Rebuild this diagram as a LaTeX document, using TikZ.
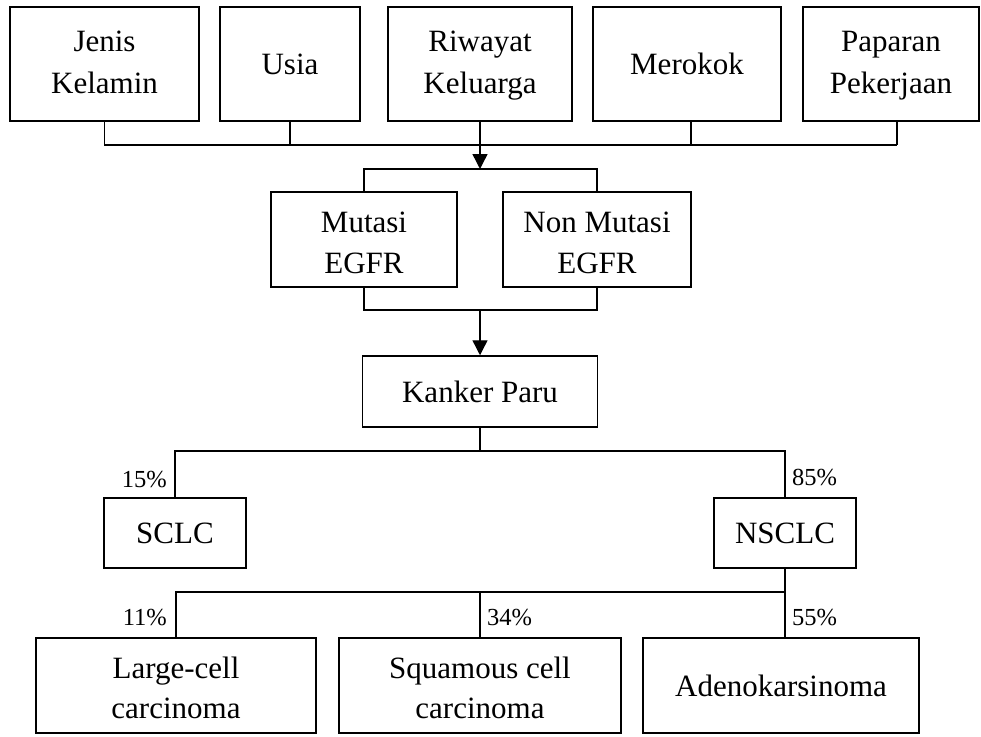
\documentclass[tikz,border=0pt]{standalone}
\usepackage{fontspec}
\setmainfont{Liberation Serif}
\usetikzlibrary{arrows.meta}
\newcommand{\tallstrut}{\rule{0pt}{39.4pt}}
\begin{document}
\begin{tikzpicture}[x=1pt,y=-1pt,
  box/.style={draw, line width=1.5pt, inner sep=0pt, align=center,
    font=\fontsize{31}{42}\selectfont},
  conn/.style={line width=1.4pt},
  arr/.style={line width=1.4pt, -{Triangle[width=15pt,length=15pt]}},
  pct/.style={font=\fontsize{24.5}{28}\selectfont, inner sep=0pt}]
\useasboundingbox (0,0) rectangle (981,736);
% top row
\node[box, minimum width=189pt, minimum height=114pt] (jenis) at (104.5,64) {\strut Jenis\\\strut Kelamin};
\node[box, minimum width=140pt, minimum height=114pt] (usia) at (290,64) {Usia};
\node[box, minimum width=184pt, minimum height=114pt] (riwayat) at (480,64) {\strut Riwayat\\\strut Keluarga};
\node[box, minimum width=188pt, minimum height=114pt] (merokok) at (687,64) {Merokok};
\node[box, minimum width=176pt, minimum height=114pt] (paparan) at (891,64) {\strut Paparan\\\strut Pekerjaan};
% EGFR
\node[box, minimum width=186pt, minimum height=95pt] (mutasi) at (364,239.5) {\tallstrut Mutasi\\[-1pt]\strut EGFR};
\node[box, minimum width=188pt, minimum height=95pt] (nonmut) at (597,239.5) {\tallstrut Non Mutasi\\[-1pt]\strut EGFR};
\node[box, minimum width=235pt, minimum height=71pt] (kanker) at (480,391.5) {Kanker Paru};
\node[box, minimum width=142pt, minimum height=70pt] (sclc) at (175,533) {SCLC};
\node[box, minimum width=142pt, minimum height=70pt] (nsclc) at (785,533) {NSCLC};
\node[box, minimum width=280pt, minimum height=95pt] (large) at (176,685.5) {\tallstrut Large-cell\\[-2pt]\strut carcinoma};
\node[box, minimum width=282pt, minimum height=95pt] (squam) at (480,685.5) {\tallstrut Squamous cell\\[-2pt]\strut carcinoma};
\node[box, minimum width=276pt, minimum height=95pt] (adeno) at (781,685.5) {Adenokarsinoma};
% coordinates
\coordinate (busR) at (897,145);
\coordinate (split1) at (480,169);
\coordinate (join2) at (480,310);
\coordinate (split3) at (480,451);
\coordinate (split4) at (785,592);
% top bus
\draw[conn] (jenis.south) |- (busR);
\draw[conn] (usia.south) -- (usia.south |- busR);
\draw[conn] ([xshift=4pt]merokok.south) -- ([xshift=4pt]merokok.south |- busR);
\draw[conn] ([xshift=6pt]paparan.south) -- (busR);
\draw[arr] (riwayat.south) -- (split1);
\draw[conn] (mutasi.north) |- (split1) -| (nonmut.north);
\draw[conn] (mutasi.south) |- (join2) -| (nonmut.south);
\draw[arr] (join2) -- (kanker.north);
\draw[conn] (kanker.south) -- (split3);
\draw[conn] (sclc.north) |- (split3) -| (nsclc.north);
\draw[conn] (nsclc.south) -- (split4);
\draw[conn] (large.north) |- (split4);
\draw[conn] (squam.north) -- (squam.north |- split4);
\draw[conn] (split4) -- (split4 |- adeno.north);
% percentages
\node[pct, anchor=base east] (p15) at (167,487) {15\%};
\node[pct, anchor=base west] (p85) at (792,485) {85\%};
\node[pct, anchor=base east] (p11) at (167,625) {11\%};
\node[pct, anchor=base west] (p34) at (487,625) {34\%};
\node[pct, anchor=base west] (p55) at (792,625) {55\%};
\end{tikzpicture}
\end{document}
